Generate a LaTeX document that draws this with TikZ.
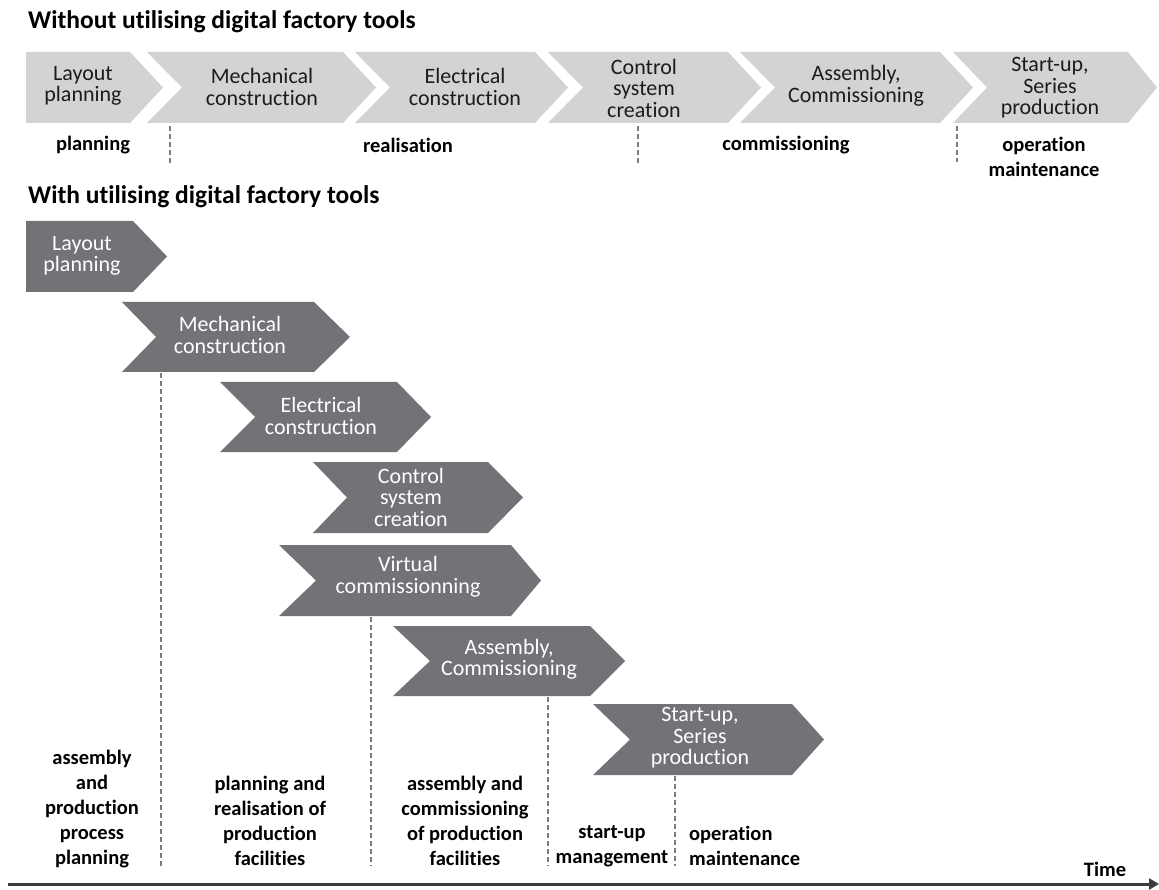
\documentclass[tikz,border=0pt]{standalone}
\usepackage{fontspec}
\setmainfont{Carlito}[Ligatures=NoCommon]
\usetikzlibrary{arrows.meta}
\definecolor{lightchev}{RGB}{211,211,211}
\definecolor{darkchev}{RGB}{114,114,119}
\definecolor{toptext}{RGB}{28,28,28}
\definecolor{dashgrey}{RGB}{125,125,125}
\definecolor{arrowgrey}{RGB}{60,60,60}
\newcommand\chevshape[8]{% #1 name, #2 style, #3 L, #4 notch, #5 R, #6 tip, #7 top, #8 bottom
  \fill[#2] (#3,#7) -- (#5,#7) -- (#6,{(#7+#8)/2}) -- (#5,#8) -- (#3,#8) -- (#4,{(#7+#8)/2}) -- cycle;
  \coordinate (#1-c) at ({(#3+#5)/2},{(#7+#8)/2});
}
\begin{document}
\begin{tikzpicture}[x=1pt,y=-1pt,
  lightc/.style={fill=lightchev},
  darkc/.style={fill=darkchev},
  ltext/.style={font=\fontsize{22}{21.5}\selectfont, align=center, text=toptext, inner sep=0pt},
  dtext/.style={font=\fontsize{22}{21.5}\selectfont, align=center, text=white, inner sep=0pt},
  title/.style={font=\bfseries\fontsize{25.5}{28}\selectfont, anchor=base west, inner sep=0pt},
  phase/.style={font=\bfseries\fontsize{20.5}{25}\selectfont, align=center, inner sep=0pt},
  vline/.style={draw=dashgrey, line width=1.6pt, dash pattern=on 5pt off 3pt},
  timearrow/.style={draw=arrowgrey, line width=3pt, -{Triangle[length=10pt,width=11pt]}}
]
\useasboundingbox (0,0) rectangle (1159,890);

% ---------- titles
\node[title] (t1) at (28,29) {Without utilising digital factory tools};
\node[title] (t2) at (28,204) {With utilising digital factory tools};

% ---------- top row (light)
\chevshape{a1}{lightc}{26}{26}{130}{163}{52}{123}
\chevshape{a2}{lightc}{147}{182}{343}{376}{52}{123}
\chevshape{a3}{lightc}{355}{390}{535}{568}{52}{123}
\chevshape{a4}{lightc}{548}{583}{728}{761}{52}{123}
\chevshape{a5}{lightc}{740}{775}{940}{973}{52}{123}
\chevshape{a6}{lightc}{953}{987}{1128}{1157}{52}{123}

\node[ltext] (ta1) at (83,86) {Layout\\planning};
\node[ltext] (ta2) at (262,87) {Mechanical\\construction};
\node[ltext] (ta3) at (465,87) {Electrical\\construction};
\node[ltext] (ta4) at (644,88) {Control\\system\\creation};
\node[ltext] (ta5) at (856,86) {Assembly,\\Commissioning};
\node[ltext] (ta6) at (1050,88) {Start-up,\\Series\\production};

% top phase labels
\node[phase] (p1) at (93,145) {planning};
\node[phase] (p2) at (408,145) {realisation};
\node[phase] (p3) at (786,145) {commissioning};
\node[phase] (p4) at (1044,157) {operation\\maintenance};

% top dashed separators
\coordinate (s1a) at (170,126); \coordinate (s1b) at (170,165);
\coordinate (s2a) at (638,126); \coordinate (s2b) at (638,165);
\coordinate (s3a) at (957,126); \coordinate (s3b) at (957,162);
\draw[vline] (s1a) -- (s1b);
\draw[vline] (s2a) -- (s2b);
\draw[vline] (s3a) -- (s3b);

% ---------- bottom cascade (dark)
\chevshape{b1}{darkc}{26}{26}{133}{167}{221}{292}
\chevshape{b2}{darkc}{122}{156}{314}{350}{302}{372}
\chevshape{b3}{darkc}{220}{255}{397}{431}{382}{452}
\chevshape{b4}{darkc}{313}{347}{488}{523}{462}{533}
\chevshape{b5}{darkc}{279}{316}{511}{541}{545}{616}
\chevshape{b6}{darkc}{393}{430}{590}{625}{626}{696}
\chevshape{b7}{darkc}{593}{630}{792}{824}{704}{775}

\node[dtext] (tb1) at (82,256) {Layout\\planning};
\node[dtext] (tb2) at (230,335) {Mechanical\\construction};
\node[dtext] (tb3) at (321,416) {Electrical\\construction};
\node[dtext] (tb4) at (411,497) {Control\\system\\creation};
\node[dtext] (tb5) at (408,577) {Virtual\\commissionning};
\node[dtext] (tb6) at (509,659) {Assembly,\\Commissioning};
\node[dtext] (tb7) at (700,738) {Start-up,\\Series\\production};

% bottom dashed separators
\coordinate (d1a) at (161,373); \coordinate (d1b) at (161,866);
\coordinate (d2a) at (371,617); \coordinate (d2b) at (371,866);
\coordinate (d3a) at (548,697); \coordinate (d3b) at (548,866);
\coordinate (d4a) at (675,776); \coordinate (d4b) at (675,866);
\draw[vline] (d1a) -- (d1b);
\draw[vline] (d2a) -- (d2b);
\draw[vline] (d3a) -- (d3b);
\draw[vline] (d4a) -- (d4b);

% bottom phase labels
\node[phase] (q1) at (92,809) {assembly\\and\\production\\process\\planning};
\node[phase] (q2) at (270,821) {planning and\\realisation of\\production\\facilities};
\node[phase] (q3) at (465,821) {assembly and\\commissioning\\of production\\facilities};
\node[phase] (q4) at (612,846) {start-up\\management};
\node[phase, align=left, anchor=west] (q5) at (689,846) {operation\\maintenance};

% time axis
\node[phase] (time) at (1105,869) {Time};
\coordinate (ax0) at (8,884);
\coordinate (ax1) at (1159,884);
\draw[timearrow] (ax0) -- (ax1);
\end{tikzpicture}
\end{document}
